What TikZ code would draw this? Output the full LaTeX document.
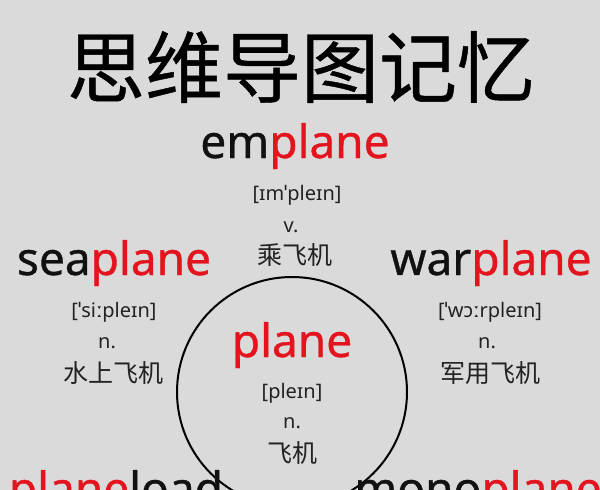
\documentclass[tikz,border=0pt]{standalone}
\usepackage{fontspec}
\setmainfont{Noto Sans}
\newfontfamily\bigfont{Noto Sans}[FakeBold=0.8]
\newfontfamily\cjk{Noto Sans CJK SC}
\newfontfamily\cjktitle{Noto Sans CJK SC}[FakeBold=0.6]
\definecolor{bg}{HTML}{DADADA}
\definecolor{wred}{HTML}{E3141E}
\definecolor{ink}{HTML}{111111}
\definecolor{ink2}{HTML}{222222}
\tikzset{
  big/.style={inner sep=0pt, anchor=base, text=ink, font=\bigfont\fontsize{46}{50}\selectfont},
  ipa/.style={inner sep=0pt, anchor=base, text=ink2, font=\fontsize{20}{24}\selectfont},
  pstyle/.style={inner sep=0pt, anchor=base, text=ink2, font=\fontsize{20}{24}\selectfont},
  zh/.style={inner sep=0pt, anchor=center, text=ink2, font=\cjk\fontsize{25}{28}\selectfont},
  title/.style={inner sep=0pt, anchor=center, text=black, font=\cjktitle\fontsize{78}{80}\selectfont},
  ring/.style={draw=black, line width=2pt, circle, minimum size=230pt, inner sep=0pt}
}
\newcommand{\rp}[1]{\textcolor{wred}{#1}}
\begin{document}
\begin{tikzpicture}[x=1pt,y=-1pt]
\clip (0,0) rectangle (600,490);
\fill[bg] (0,0) rectangle (600,490);
\node[ring] (ring) at (292,392) {};
\node[title] (t) at (301,67) {思维导图记忆};
% top
\node[big] (em) at (295,158) {em\rp{plane}};
\node[ipa] (emipa) at (297,200) {[ɪmˈpleɪn]};
\node[pstyle] (emv) at (291,232) {v.};
\node[zh] (emzh) at (295,255) {乘飞机};
% left
\node[big] (sea) at (114,275) {sea\rp{plane}};
\node[ipa] (seaipa) at (114,317) {[ˈsiːpleɪn]};
\node[pstyle] (sean) at (107,348) {n.};
\node[zh] (seazh) at (113,373) {水上飞机};
% right
\node[big] (war) at (491,275) {war\rp{plane}};
\node[ipa] (waripa) at (490,317) {[ˈwɔːrpleɪn]};
\node[pstyle] (warn) at (487,348) {n.};
\node[zh] (warzh) at (490,373) {军用飞机};
% centre
\node[big] (pl) at (292,357) {\rp{plane}};
\node[ipa] (plipa) at (292,398) {[pleɪn]};
\node[pstyle] (pln) at (292,428) {n.};
\node[zh] (plzh) at (292,453) {飞机};
% bottom
\node[big] (load) at (116,505) {\rp{plane}load};
\node[big] (mono) at (478,505) {mono\rp{plane}};
\end{tikzpicture}
\end{document}
